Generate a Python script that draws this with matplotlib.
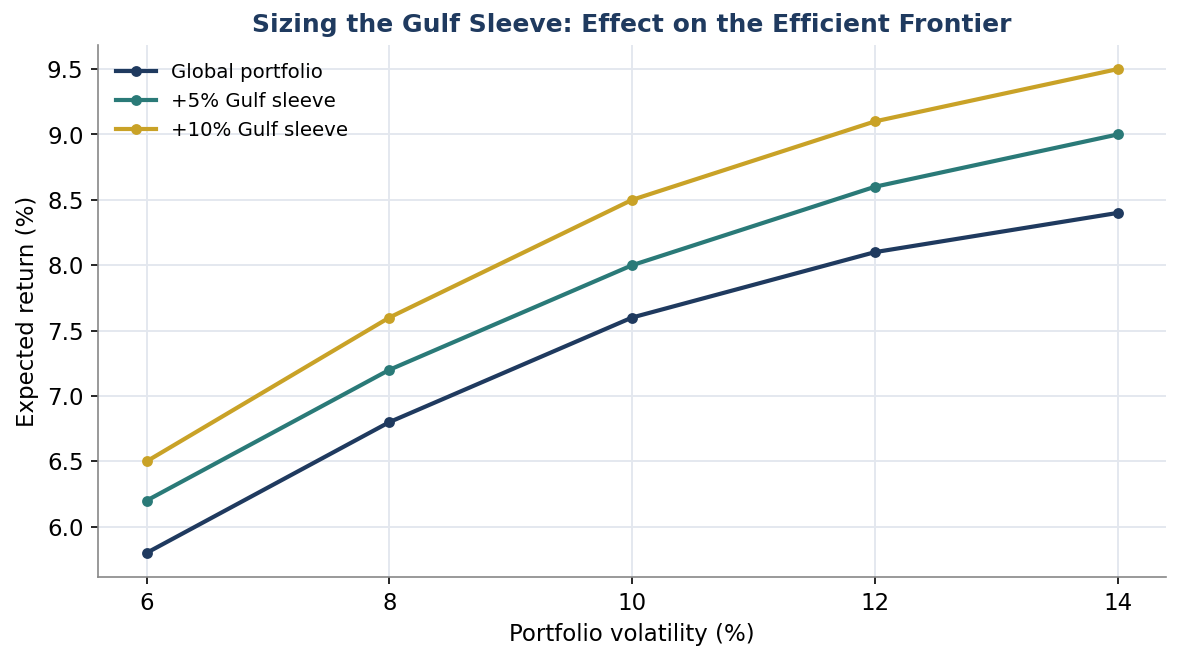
import matplotlib
matplotlib.use("Agg")
import matplotlib.pyplot as plt

volatility = [6, 8, 10, 12, 14]
global_portfolio = [5.8, 6.8, 7.6, 8.1, 8.4]
gulf_5 = [6.2, 7.2, 8.0, 8.6, 9.0]
gulf_10 = [6.5, 7.6, 8.5, 9.1, 9.5]
labels = ["Global portfolio", "+5% Gulf sleeve", "+10% Gulf sleeve"]
colors = ["#1f3a5f", "#2a7a78", "#c9a227"]

fig = plt.figure(figsize=(7.88, 4.4067), dpi=150)
ax = fig.add_axes([0.083, 0.127, 0.9035, 0.805])

for ys, lab, c in zip([global_portfolio, gulf_5, gulf_10], labels, colors):
    ax.plot(volatility, ys, color=c, lw=2, marker="o", ms=4.2, label=lab)

ax.set_xticks(volatility)
ax.set_yticks([6.0, 6.5, 7.0, 7.5, 8.0, 8.5, 9.0, 9.5])
ax.grid(True, color="#e3e7ee", lw=0.9)
ax.set_axisbelow(True)
for s in ["top", "right"]:
    ax.spines[s].set_visible(False)
for s in ["left", "bottom"]:
    ax.spines[s].set_color("#888888")
ax.tick_params(labelsize=11)
ax.set_xlabel("Portfolio volatility (%)", fontsize=11)
ax.set_ylabel("Expected return (%)", fontsize=11)
ax.set_title("Sizing the Gulf Sleeve: Effect on the Efficient Frontier",
             fontsize=12, fontweight="bold", color="#1f3a5f")
ax.legend(loc="upper left", frameon=False, fontsize=9.5)

fig.savefig("out.png", dpi=150)
